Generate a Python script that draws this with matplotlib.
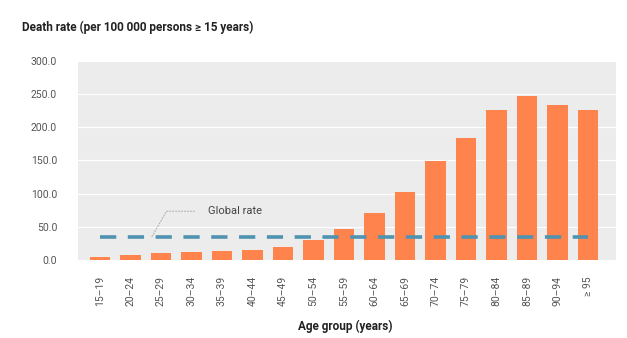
import numpy as np
import matplotlib.pyplot as plt

plt.rcParams['font.family'] = ['Roboto', 'DejaVu Sans']

# data
age_groups = ['15–19', '20–24', '25–29', '30–34', '35–39', '40–44', '45–49',
              '50–54', '55–59', '60–64', '65–69', '70–74', '75–79', '80–84',
              '85–89', '90–94', '≥ 95']
death_rate = [4.5, 7.5, 10.0, 11.5, 13.0, 14.5, 20.0, 30.0, 46.5, 71.0,
              103.0, 149.0, 184.0, 226.0, 247.0, 234.0, 226.0]
global_rate = 34.0
y_ticks = [0, 50, 100, 150, 200, 250, 300]

fig = plt.figure(figsize=(6.27, 3.38), dpi=100)
ax = fig.add_axes([0.1244, 0.2308, 0.8581, 0.5887])
ax.set_facecolor('#ececec')

x = np.arange(len(age_groups))
ax.bar(x, death_rate, width=0.68, color='#ff834d', zorder=3)

# global rate line
ax.plot([x[0], x[-1]], [global_rate, global_rate], color='#4f93b0', lw=2.6,
        dashes=(4.5, 3.2), zorder=4, solid_capstyle='butt')

# annotation with dotted leader
ax.annotate('Global rate', xy=(1.7, global_rate + 1), xytext=(3.55, 73.5),
            fontsize=8, color='#444444', va='center', ha='left',
            arrowprops=dict(arrowstyle='-', color='#b0b0b0', lw=0.8,
                            ls=':', connectionstyle='angle,angleA=0,angleB=60',
                            shrinkA=8, shrinkB=0))

ax.set_xlim(-0.72, 16.92)
ax.set_ylim(0, 300)
ax.set_yticks(y_ticks)
ax.set_yticklabels(['{:.1f}'.format(v) for v in y_ticks], fontsize=7.5, color='#555555')
ax.set_xticks(x)
ax.set_xticklabels(age_groups, rotation=90, fontsize=7.5, color='#555555')
ax.tick_params(length=0, pad=15)
ax.tick_params(axis='x', pad=11.5)
ax.grid(axis='y', color='white', lw=0.8, zorder=1)
for s in ax.spines.values():
    s.set_visible(False)

fig.text(22 / 627, 1 - 27 / 338, 'Death rate (per 100 000 persons ≥ 15 years)',
         fontsize=8.5, fontweight='bold', color='#222222', va='center')
fig.text(345 / 627, 1 - 326 / 338, 'Age group (years)', fontsize=8.5,
         fontweight='bold', color='#222222', ha='center', va='center')

fig.savefig('out.png', dpi=100)
